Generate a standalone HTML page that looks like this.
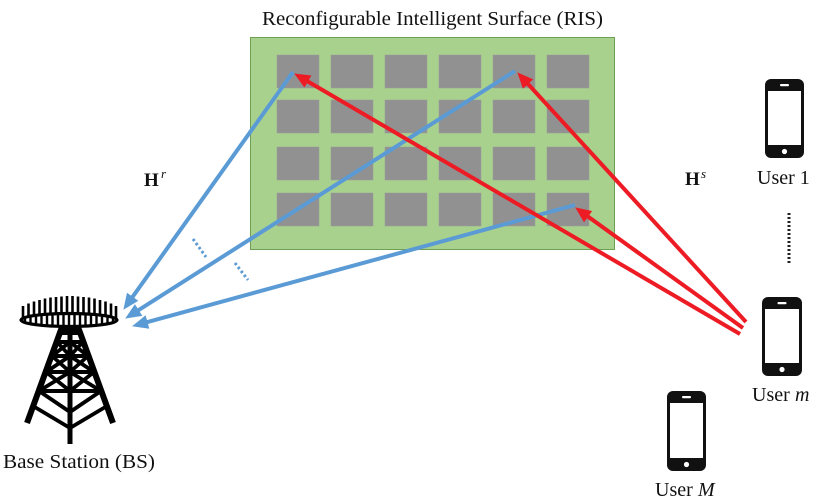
<!DOCTYPE html>
<html>
<head>
<meta charset="utf-8">
<style>
  html, body { margin:0; padding:0; background:#fff; }
  svg { display:block; }
  text { font-family: "Liberation Serif", "DejaVu Serif", serif; fill:#111; }
</style>
</head>
<body>
<svg width="820" height="504" viewBox="0 0 820 504" xmlns="http://www.w3.org/2000/svg">
  <defs>
    <marker id="ab" markerUnits="userSpaceOnUse" markerWidth="17" markerHeight="14" refX="11" refY="7" orient="auto">
      <path d="M0,0 L16,7 L0,14 z" fill="#5b9bd5"/>
    </marker>
    <marker id="ar" markerUnits="userSpaceOnUse" markerWidth="17" markerHeight="14" refX="11" refY="7" orient="auto">
      <path d="M0,0 L16,7 L0,14 z" fill="#ed1c24"/>
    </marker>
    <clipPath id="ringclip">
      <ellipse cx="69" cy="320" rx="47" ry="5.5"/>
    </clipPath>
  </defs>

  <!-- Title -->
  <text x="262" y="25" font-size="20" textLength="341" lengthAdjust="spacingAndGlyphs">Reconfigurable Intelligent Surface (RIS)</text>

  <!-- RIS panel -->
  <rect x="250.5" y="37.5" width="364" height="212" fill="#a9d18e" stroke="#6f9f55" stroke-width="1"/>
  <g fill="#919191" stroke="#9a9a9a" stroke-width="0.5">
    <rect x="277" y="55" width="42" height="33"/><rect x="331" y="55" width="42" height="33"/><rect x="385" y="55" width="42" height="33"/><rect x="439" y="55" width="42" height="33"/><rect x="493" y="55" width="42" height="33"/><rect x="547" y="55" width="42" height="33"/>
    <rect x="277" y="100" width="42" height="33"/><rect x="331" y="100" width="42" height="33"/><rect x="385" y="100" width="42" height="33"/><rect x="439" y="100" width="42" height="33"/><rect x="493" y="100" width="42" height="33"/><rect x="547" y="100" width="42" height="33"/>
    <rect x="277" y="147" width="42" height="33"/><rect x="331" y="147" width="42" height="33"/><rect x="385" y="147" width="42" height="33"/><rect x="439" y="147" width="42" height="33"/><rect x="493" y="147" width="42" height="33"/><rect x="547" y="147" width="42" height="33"/>
    <rect x="277" y="193" width="42" height="33"/><rect x="331" y="193" width="42" height="33"/><rect x="385" y="193" width="42" height="33"/><rect x="439" y="193" width="42" height="33"/><rect x="493" y="193" width="42" height="33"/><rect x="547" y="193" width="42" height="33"/>
  </g>

  <!-- Blue lines (RIS -> BS) -->
  <g stroke="#5b9bd5" stroke-width="4" fill="none">
    <line x1="293" y1="72" x2="126.3" y2="305.7" marker-end="url(#ab)"/>
    <line x1="515" y1="71" x2="129.4" y2="315.9" marker-end="url(#ab)"/>
    <line x1="575" y1="205" x2="136.9" y2="324.9" marker-end="url(#ab)"/>
  </g>
  <g stroke="#5b9bd5" stroke-width="3" stroke-dasharray="2.5,2.5" fill="none">
    <line x1="193" y1="239" x2="206" y2="257"/>
    <line x1="235" y1="263" x2="248" y2="280"/>
  </g>

  <!-- Red lines (User m -> RIS) -->
  <g stroke="#ed1c24" stroke-width="4" fill="none">
    <line x1="740" y1="334" x2="298.5" y2="76" marker-end="url(#ar)"/>
    <line x1="746" y1="322" x2="520.7" y2="76" marker-end="url(#ar)"/>
    <line x1="743" y1="328" x2="579.2" y2="210.3" marker-end="url(#ar)"/>
  </g>

  <!-- Channel labels -->
  <text x="144" y="186" font-size="19" font-weight="bold">H</text>
  <text x="161" y="178" font-size="13" font-style="italic">r</text>
  <text x="685" y="185" font-size="19" font-weight="bold">H</text>
  <text x="701" y="178" font-size="13" font-style="italic">s</text>

  <!-- Base station tower -->
  <g stroke="#000" stroke-linecap="butt">
    <g stroke-width="2.6">
      <line x1="23" y1="306" x2="23" y2="318"/>
      <line x1="28.5" y1="303.5" x2="28.5" y2="318"/>
      <line x1="34" y1="301.5" x2="34" y2="318"/>
      <line x1="39.5" y1="300" x2="39.5" y2="318"/>
      <line x1="45" y1="298.5" x2="45" y2="318"/>
      <line x1="50.5" y1="297.5" x2="50.5" y2="318"/>
      <line x1="56" y1="297" x2="56" y2="318"/>
      <line x1="61.5" y1="296.5" x2="61.5" y2="318"/>
      <line x1="67" y1="296" x2="67" y2="318"/>
      <line x1="72.5" y1="296" x2="72.5" y2="318"/>
      <line x1="78" y1="296.5" x2="78" y2="318"/>
      <line x1="83.5" y1="297" x2="83.5" y2="318"/>
      <line x1="89" y1="297.5" x2="89" y2="318"/>
      <line x1="94.5" y1="298.5" x2="94.5" y2="318"/>
      <line x1="100" y1="300" x2="100" y2="318"/>
      <line x1="105.5" y1="301.5" x2="105.5" y2="318"/>
      <line x1="111" y1="303.5" x2="111" y2="318"/>
      <line x1="116" y1="306" x2="116" y2="318"/>
    </g>
    <ellipse cx="69" cy="320" rx="48" ry="6.5" fill="#fff" stroke-width="3.2"/>
    <g clip-path="url(#ringclip)" stroke-width="2.4">
      <line x1="25" y1="310" x2="25" y2="330"/><line x1="30.5" y1="310" x2="30.5" y2="330"/><line x1="36" y1="310" x2="36" y2="330"/><line x1="41.5" y1="310" x2="41.5" y2="330"/><line x1="47" y1="310" x2="47" y2="330"/><line x1="52.5" y1="310" x2="52.5" y2="330"/><line x1="58" y1="310" x2="58" y2="330"/><line x1="63.5" y1="310" x2="63.5" y2="330"/><line x1="69" y1="310" x2="69" y2="330"/><line x1="74.5" y1="310" x2="74.5" y2="330"/><line x1="80" y1="310" x2="80" y2="330"/><line x1="85.5" y1="310" x2="85.5" y2="330"/><line x1="91" y1="310" x2="91" y2="330"/><line x1="96.5" y1="310" x2="96.5" y2="330"/><line x1="102" y1="310" x2="102" y2="330"/><line x1="107.5" y1="310" x2="107.5" y2="330"/><line x1="113" y1="310" x2="113" y2="330"/>
    </g>
    <!-- legs and pole -->
    <line x1="62" y1="327" x2="27" y2="423" stroke-width="6"/>
    <line x1="78" y1="327" x2="113" y2="423" stroke-width="6"/>
    <line x1="70" y1="333" x2="70" y2="444" stroke-width="5"/>
    <!-- neck block -->
    <rect x="60" y="327" width="20" height="8" fill="#000" stroke="none"/>
    <!-- horizontals -->
    <g stroke-width="4">
      <line x1="57" y1="342" x2="83" y2="342"/>
      <line x1="52" y1="356" x2="88" y2="356"/>
      <line x1="46" y1="372" x2="94" y2="372"/>
      <line x1="39" y1="391" x2="101" y2="391"/>
    </g>
    <!-- diagonals -->
    <g stroke-width="3.8">
      <line x1="57" y1="342" x2="70" y2="356"/><line x1="83" y1="342" x2="70" y2="356"/>
      <line x1="52" y1="356" x2="70" y2="372"/><line x1="88" y1="356" x2="70" y2="372"/>
      <line x1="46" y1="372" x2="70" y2="391"/><line x1="94" y1="372" x2="70" y2="391"/>
      <line x1="39" y1="391" x2="70" y2="412"/><line x1="101" y1="391" x2="70" y2="412"/>
      <line x1="70" y1="342" x2="52" y2="356"/><line x1="70" y1="342" x2="88" y2="356"/>
      <line x1="70" y1="356" x2="46" y2="372"/><line x1="70" y1="356" x2="94" y2="372"/>
      <line x1="70" y1="372" x2="39" y2="391"/><line x1="70" y1="372" x2="101" y2="391"/>
      <line x1="33" y1="406" x2="70" y2="428"/><line x1="107" y1="406" x2="70" y2="428"/>
    </g>
  </g>
  <text x="3" y="468" font-size="20" textLength="152" lengthAdjust="spacingAndGlyphs">Base Station (BS)</text>

  <!-- User 1 -->
  <g>
    <rect x="765" y="79" width="39" height="79" rx="6" fill="#111"/>
    <rect x="768" y="91" width="33" height="54" fill="#fff"/>
    <rect x="780" y="84" width="9" height="2.2" rx="1" fill="#fff"/>
    <circle cx="784.5" cy="151.5" r="2.6" fill="#fff"/>
  </g>
  <text x="757" y="184" font-size="20">User 1</text>

  <!-- vertical dots -->
  <line x1="789" y1="213" x2="789" y2="264" stroke="#222" stroke-width="3" stroke-dasharray="2,2"/>

  <!-- User m -->
  <g>
    <rect x="762" y="297" width="40" height="79" rx="6" fill="#111"/>
    <rect x="765" y="309" width="34" height="54" fill="#fff"/>
    <rect x="777.5" y="302" width="9" height="2.2" rx="1" fill="#fff"/>
    <circle cx="782" cy="369.5" r="2.6" fill="#fff"/>
  </g>
  <text y="401" font-size="20"><tspan x="752">User </tspan><tspan x="795" font-style="italic">m</tspan></text>

  <!-- User M -->
  <g>
    <rect x="667" y="391" width="39" height="80" rx="6" fill="#111"/>
    <rect x="670" y="403" width="33" height="55" fill="#fff"/>
    <rect x="682" y="396" width="9" height="2.2" rx="1" fill="#fff"/>
    <circle cx="686.5" cy="464.5" r="2.6" fill="#fff"/>
  </g>
  <text y="496" font-size="20"><tspan x="655">User </tspan><tspan x="698" font-style="italic">M</tspan></text>
</svg>
</body>
</html>
